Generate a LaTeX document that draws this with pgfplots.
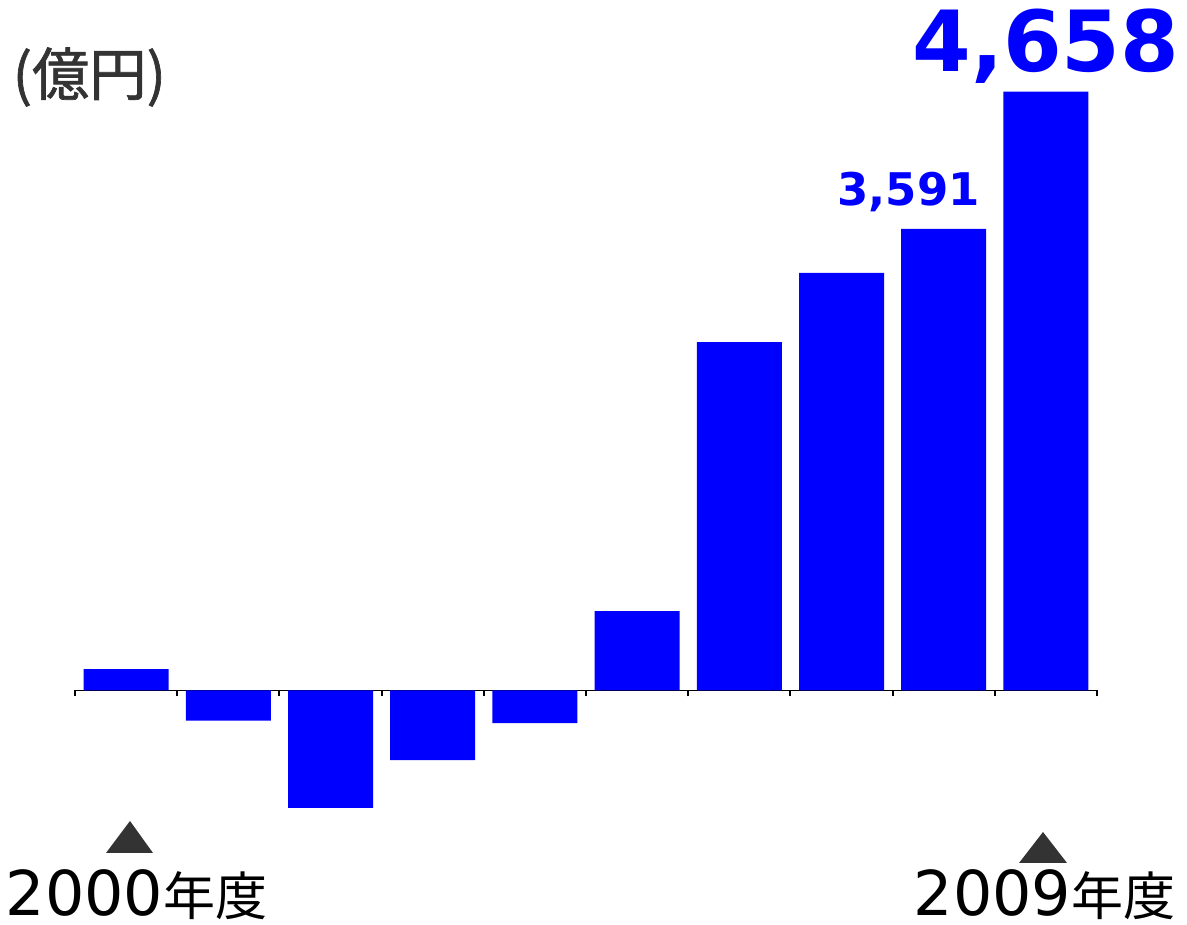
\documentclass[border=0pt]{standalone}
\usepackage{pgfplots}
\pgfplotsset{compat=1.18}
\usepackage{fontspec}
\newfontfamily\numfont{DejaVu Sans}
\newfontfamily\jpfont{Noto Sans CJK JP}
\newfontfamily\jpsemi[FakeBold=1.2]{Noto Sans CJK JP}
\definecolor{barblue}{HTML}{0000FF}
\definecolor{dgray}{HTML}{333333}
\begin{document}
\begin{tikzpicture}
\useasboundingbox (0,0) rectangle (11.87cm,9.25cm);
\begin{axis}[
 at={(0.75cm,0cm)}, anchor=south west,
 scale only axis, width=10.22cm, height=9.25cm,
 xmin=-0.5, xmax=9.5, ymin=-1824.4, ymax=5372.1,
 axis x line=middle, axis y line=none,
 x axis line style={-, line width=0.55pt, black},
 xtick={-0.5,0.5,...,9.5}, xticklabels={},
 xtick align=inside, major tick length=0.06cm,
 xtick style={line width=0.55pt, black},
 ytick=\empty,
 clip=false,
 ybar, bar width=0.85cm, bar shift=0pt,
]
\addplot[fill=barblue, draw=none] coordinates {
 (0,167) (1,-235) (2,-914) (3,-541) (4,-253)
 (5,618) (6,2711) (7,3248) (8,3591) (9,4658)};
\node[anchor=base, inner sep=0, text=barblue, font=\numfont\bfseries\fontsize{24}{24}\selectfont]
  at (axis cs:9,4658) [yshift=0.2cm] {4,658};
\node[anchor=base, inner sep=0, text=barblue, font=\numfont\bfseries\fontsize{12.8}{13}\selectfont]
  at (axis cs:8,3591) [yshift=0.23cm, xshift=-0.35cm] {3,591};
\end{axis}
\node[anchor=west, inner sep=0, text=dgray, font=\jpsemi\fontsize{16.3}{17}\selectfont]
  at (0.12cm, 8.48cm) {(億円)};
\fill[dgray] (1.30cm,1.04cm) -- (1.06cm,0.72cm) -- (1.53cm,0.72cm) -- cycle;
\fill[dgray] (10.43cm,0.93cm) -- (10.19cm,0.62cm) -- (10.67cm,0.62cm) -- cycle;
\node[anchor=base west, inner sep=0, text=black]
  at (0.05cm,0.09cm) {\numfont\fontsize{17.6}{18}\selectfont 2000\jpfont\fontsize{14.8}{15}\selectfont 年度};
\node[anchor=base west, inner sep=0, text=black]
  at (9.13cm,0.09cm) {\numfont\fontsize{17.6}{18}\selectfont 2009\jpfont\fontsize{14.8}{15}\selectfont 年度};
\end{tikzpicture}
\end{document}
